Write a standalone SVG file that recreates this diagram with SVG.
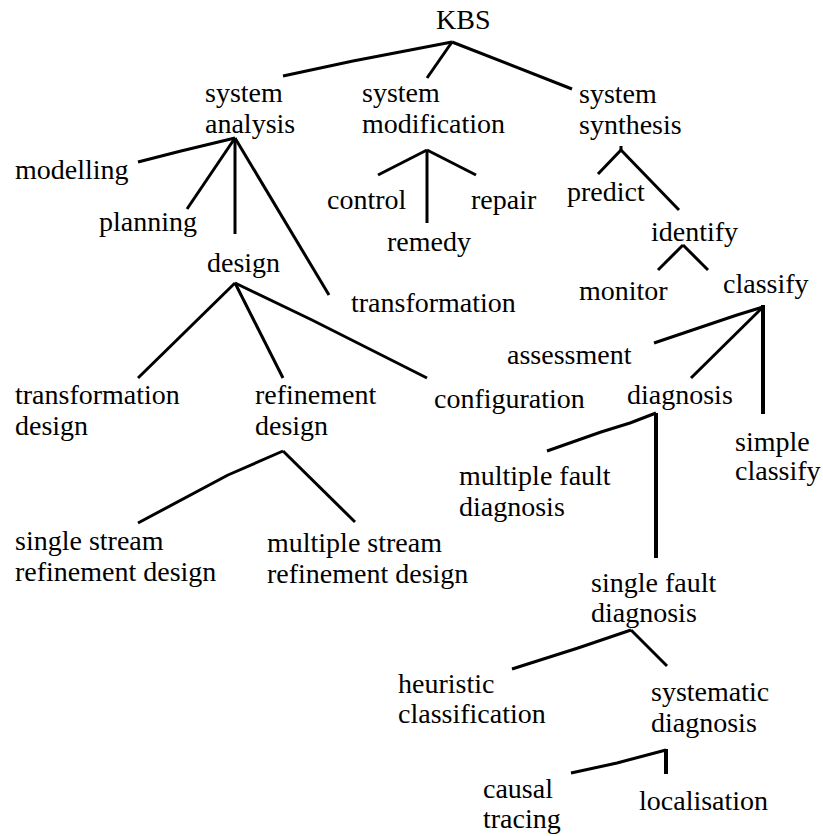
<svg xmlns="http://www.w3.org/2000/svg" width="823" height="836" viewBox="0 0 823 836">
  <rect width="823" height="836" fill="#fff"/>

  <!-- connectors: plain black strokes, drawn tree edges -->
  <g id="connectors" fill="none" stroke="#000" stroke-width="3" stroke-linejoin="round">
    <!-- KBS -->
    <polyline points="452,42 353,61 283,76"/>
    <polyline points="452,42 427,78"/>
    <polyline points="452,42 572,89"/>
    <!-- system analysis -->
    <polyline points="235,138 181,151 138,162"/>
    <polyline points="235,138 187,209"/>
    <polyline points="235,138 235,234"/>
    <polyline points="235,138 329,295"/>
    <!-- design -->
    <polyline points="235,283 138,378"/>
    <polyline points="235,283 283,378"/>
    <polyline points="235,283 312,320 427,378"/>
    <!-- refinement design -->
    <polyline points="283,451 228,475 138,523"/>
    <polyline points="283,451 355,522"/>
    <!-- system modification -->
    <polyline points="427,150 378,175"/>
    <polyline points="427,150 427,223"/>
    <polyline points="427,150 476,175"/>
    <!-- system synthesis -->
    <polyline points="621,146 621,150 598,174"/>
    <polyline points="620,149 679,210"/>
    <!-- identify -->
    <polyline points="683,245 658,270"/>
    <polyline points="683,245 708,270"/>
    <!-- classify -->
    <polyline points="763,307 737,315 654,343"/>
    <polyline points="763,307 691,378"/>
    <polyline points="763,305 763,414" stroke-width="4"/>
    <!-- diagnosis -->
    <polyline points="656,413 630,423 601,432 547,451"/>
    <polyline points="656,413 656,558" stroke-width="4"/>
    <!-- single fault diagnosis -->
    <polyline points="631,630 578,648 512,669"/>
    <polyline points="631,630 667,666"/>
    <!-- systematic diagnosis -->
    <polyline points="666,750 617,763 571,773"/>
    <polyline points="666,749 666,774" stroke-width="4"/>
  </g>

  <!-- nodes -->
  <g id="n-kbs"><text font-family="Tinos, Liberation Serif, serif" font-size="28" x="436" y="29">KBS</text></g>
  <g id="n-system-analysis"><text font-family="Tinos, Liberation Serif, serif" font-size="28" x="205" y="102">system<tspan x="205" y="133">analysis</tspan></text></g>
  <g id="n-system-modification"><text font-family="Tinos, Liberation Serif, serif" font-size="28" x="362" y="102">system<tspan x="362" y="133">modification</tspan></text></g>
  <g id="n-system-synthesis"><text font-family="Tinos, Liberation Serif, serif" font-size="28" x="579" y="103">system<tspan x="579" y="134">synthesis</tspan></text></g>

  <g id="n-modelling"><text font-family="Tinos, Liberation Serif, serif" font-size="28" x="15" y="179">modelling</text></g>
  <g id="n-planning"><text font-family="Tinos, Liberation Serif, serif" font-size="28" x="99" y="231">planning</text></g>
  <g id="n-design"><text font-family="Tinos, Liberation Serif, serif" font-size="28" x="207" y="272">design</text></g>
  <g id="n-transformation"><text font-family="Tinos, Liberation Serif, serif" font-size="28" x="351" y="312">transformation</text></g>

  <g id="n-control"><text font-family="Tinos, Liberation Serif, serif" font-size="28" x="327" y="209">control</text></g>
  <g id="n-remedy"><text font-family="Tinos, Liberation Serif, serif" font-size="28" x="387" y="251">remedy</text></g>
  <g id="n-repair"><text font-family="Tinos, Liberation Serif, serif" font-size="28" x="471" y="209">repair</text></g>

  <g id="n-predict"><text font-family="Tinos, Liberation Serif, serif" font-size="28" x="567" y="201">predict</text></g>
  <g id="n-identify"><text font-family="Tinos, Liberation Serif, serif" font-size="28" x="651" y="241">identify</text></g>
  <g id="n-monitor"><text font-family="Tinos, Liberation Serif, serif" font-size="28" x="579" y="300">monitor</text></g>
  <g id="n-classify"><text font-family="Tinos, Liberation Serif, serif" font-size="28" x="723" y="293">classify</text></g>

  <g id="n-transformation-design"><text font-family="Tinos, Liberation Serif, serif" font-size="28" x="15" y="404">transformation<tspan x="15" y="435">design</tspan></text></g>
  <g id="n-refinement-design"><text font-family="Tinos, Liberation Serif, serif" font-size="28" x="255" y="404">refinement<tspan x="255" y="435">design</tspan></text></g>
  <g id="n-configuration"><text font-family="Tinos, Liberation Serif, serif" font-size="28" x="434" y="408">configuration</text></g>

  <g id="n-single-stream"><text font-family="Tinos, Liberation Serif, serif" font-size="28" x="15" y="550">single stream<tspan x="15" y="581">refinement design</tspan></text></g>
  <g id="n-multiple-stream"><text font-family="Tinos, Liberation Serif, serif" font-size="28" x="267" y="552">multiple stream<tspan x="267" y="583">refinement design</tspan></text></g>

  <g id="n-assessment"><text font-family="Tinos, Liberation Serif, serif" font-size="28" x="507" y="364">assessment</text></g>
  <g id="n-diagnosis"><text font-family="Tinos, Liberation Serif, serif" font-size="28" x="627" y="404">diagnosis</text></g>
  <g id="n-simple-classify"><text font-family="Tinos, Liberation Serif, serif" font-size="28" x="735" y="451">simple<tspan x="735" y="480">classify</tspan></text></g>
  <g id="n-multiple-fault"><text font-family="Tinos, Liberation Serif, serif" font-size="28" x="459" y="485">multiple fault<tspan x="459" y="516">diagnosis</tspan></text></g>
  <g id="n-single-fault"><text font-family="Tinos, Liberation Serif, serif" font-size="28" x="591" y="592">single fault<tspan x="591" y="622">diagnosis</tspan></text></g>

  <g id="n-heuristic"><text font-family="Tinos, Liberation Serif, serif" font-size="28" x="398" y="693">heuristic<tspan x="398" y="723">classification</tspan></text></g>
  <g id="n-systematic"><text font-family="Tinos, Liberation Serif, serif" font-size="28" x="651" y="701">systematic<tspan x="651" y="732">diagnosis</tspan></text></g>
  <g id="n-causal"><text font-family="Tinos, Liberation Serif, serif" font-size="28" x="483" y="798">causal<tspan x="483" y="828">tracing</tspan></text></g>
  <g id="n-localisation"><text font-family="Tinos, Liberation Serif, serif" font-size="28" x="639" y="810">localisation</text></g>
</svg>
